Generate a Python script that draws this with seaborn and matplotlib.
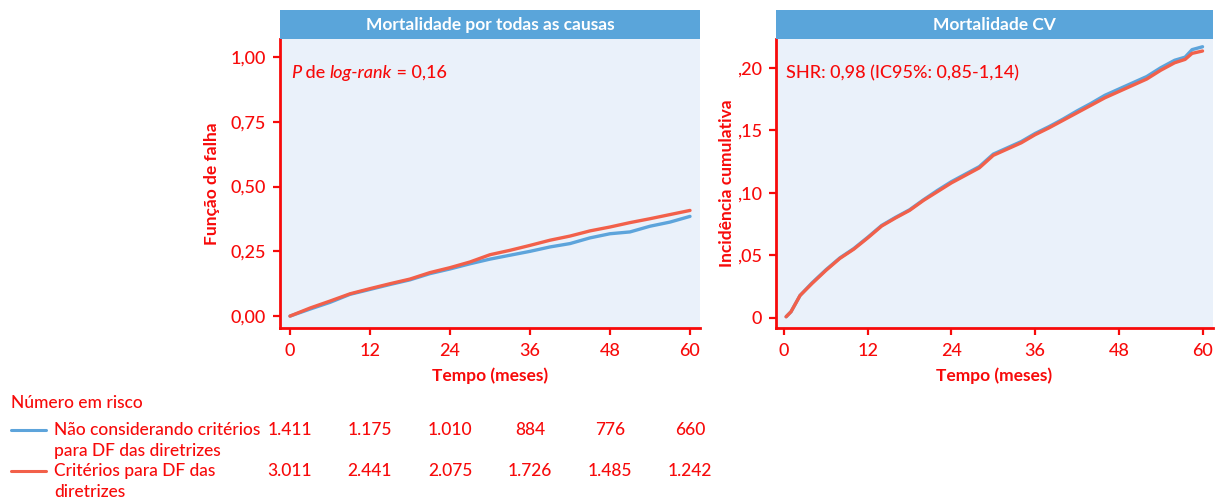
import pandas as pd
import seaborn as sns
from matplotlib import pyplot as plt
from matplotlib.lines import Line2D
import matplotlib.transforms as mtransforms

RED = "#F70A0A"
BLUE = "#5DA4DB"
ORANGE = "#F2604A"
HEADER = "#5AA5DA"
PANEL_BG = "#EAF1FA"

grupo_nao = "Não considerando critérios para DF das diretrizes"
grupo_crit = "Critérios para DF das diretrizes"

# all-cause mortality (failure function), read every 3 months
t_all = [0, 3, 6, 9, 12, 15, 18, 21, 24, 27, 30, 33, 36, 39, 42, 45, 48, 51, 54, 57, 60]
all_nao = [0.0, 0.027, 0.053, 0.084, 0.103, 0.122, 0.140, 0.164, 0.182, 0.202, 0.220,
           0.235, 0.250, 0.267, 0.280, 0.302, 0.318, 0.325, 0.347, 0.363, 0.385]
all_crit = [0.0, 0.031, 0.058, 0.086, 0.106, 0.125, 0.143, 0.168, 0.187, 0.209, 0.237,
            0.254, 0.273, 0.293, 0.309, 0.329, 0.344, 0.361, 0.376, 0.392, 0.408]

# CV mortality (cumulative incidence)
t_cv = [0.3, 1, 2.3, 4, 6, 8, 10, 12, 14, 16, 18, 20, 22, 24, 26, 28, 30, 32, 34, 36,
        38, 40, 42, 44, 46, 48, 50, 52, 54, 56, 57.5, 58.5, 60]
cv_nao = [0.001, 0.005, 0.018, 0.028, 0.0385, 0.048, 0.0555, 0.0645, 0.074, 0.0805, 0.0865,
          0.0945, 0.102, 0.109, 0.115, 0.121, 0.131, 0.136, 0.141, 0.1475, 0.153, 0.159,
          0.1655, 0.1715, 0.178, 0.183, 0.188, 0.193, 0.200, 0.206, 0.2085, 0.2145, 0.2168]
cv_crit = [0.001, 0.005, 0.018, 0.0275, 0.038, 0.0476, 0.055, 0.064, 0.0735, 0.080, 0.086,
           0.094, 0.101, 0.108, 0.114, 0.120, 0.130, 0.135, 0.140, 0.1465, 0.152, 0.158,
           0.164, 0.170, 0.176, 0.181, 0.186, 0.191, 0.198, 0.204, 0.2067, 0.2115, 0.2134]

x_ticks = [0, 12, 24, 36, 48, 60]
all_yticks = [0, 0.25, 0.5, 0.75, 1.0]
all_yticklabels = ["0,00", "0,25", "0,50", "0,75", "1,00"]
cv_yticks = [0, 0.05, 0.10, 0.15, 0.20]
cv_yticklabels = ["0", ",05", ",10", ",15", ",20"]

risk_nao = ["1.411", "1.175", "1.010", "884", "776", "660"]
risk_crit = ["3.011", "2.441", "2.075", "1.726", "1.485", "1.242"]

df_all = pd.concat([
    pd.DataFrame({"tempo": t_all, "valor": all_nao, "grupo": grupo_nao}),
    pd.DataFrame({"tempo": t_all, "valor": all_crit, "grupo": grupo_crit}),
])
df_cv = pd.concat([
    pd.DataFrame({"tempo": t_cv, "valor": cv_nao, "grupo": grupo_nao}),
    pd.DataFrame({"tempo": t_cv, "valor": cv_crit, "grupo": grupo_crit}),
])
palette = {grupo_nao: BLUE, grupo_crit: ORANGE}

sns.set_theme(style="white")
plt.rcParams["font.family"] = ["Lato", "DejaVu Sans"]
plt.rcParams["font.weight"] = "medium"

W, H = 1224, 501
fig = plt.figure(figsize=(W / 100, H / 100), dpi=100)


def px_rect(x0, y0, x1, y1):
    return [x0 / W, 1 - y1 / H, (x1 - x0) / W, (y1 - y0) / H]


def panel(rect, header_rect, title, df, xlim, ylim, yticks, yticklabels, ylabel, ylabel_x):
    ax = fig.add_axes(px_rect(*rect))
    sns.lineplot(data=df, x="tempo", y="valor", hue="grupo", palette=palette,
                 linewidth=2.4, legend=False, ax=ax, estimator=None, sort=False)
    ax.set_facecolor(PANEL_BG)
    ax.set_xlim(*xlim)
    ax.set_ylim(*ylim)
    ax.set_xticks(x_ticks)
    ax.set_xticklabels([str(t) for t in x_ticks])
    ax.set_yticks(yticks)
    ax.set_yticklabels(yticklabels)
    for side in ["top", "right"]:
        ax.spines[side].set_visible(False)
    for side in ["left", "bottom"]:
        ax.spines[side].set_color(RED)
        ax.spines[side].set_linewidth(2.0)
    ax.tick_params(axis="both", colors=RED, labelcolor=RED, length=5, width=1.6,
                   labelsize=13, direction="out", left=True, bottom=True)
    ax.tick_params(axis="x", pad=6)
    ax.tick_params(axis="y", pad=5)
    ax.set_xlabel("Tempo (meses)", color=RED, fontsize=12.5, fontweight="bold")
    ax.xaxis.set_label_coords(0.5, -0.138)
    ax.set_ylabel(ylabel, color=RED, fontsize=12.5, fontweight="bold")
    ax.yaxis.set_label_coords(ylabel_x, 0.5)
    ax.grid(False)

    hx = fig.add_axes(px_rect(*header_rect))
    hx.set_facecolor(HEADER)
    hx.set_xticks([])
    hx.set_yticks([])
    for s in hx.spines.values():
        s.set_visible(False)
    hx.text(0.5, 0.5, title, color="white", fontsize=12.5, fontweight="bold",
            ha="center", va="center", transform=hx.transAxes)
    return ax


ax1 = panel((280, 39, 700, 328), (280, 10, 700, 39), "Mortalidade por todas as causas",
            df_all, (-1.5, 61.5), (-0.046, 1.07), all_yticks, all_yticklabels,
            "Função de falha", -0.143)
ax2 = panel((776, 39, 1213, 328), (776, 10, 1213, 39), "Mortalidade CV",
            df_cv, (-1.15, 61.5), (-0.008, 0.223), cv_yticks, cv_yticklabels,
            "Incidência cumulativa", -0.094)

# P de log-rank annotation, built from text runs
runs = [("P", "italic"), (" de ", "normal"), ("log-rank", "italic"), (" = 0,16", "normal")]
prev = None
for s, style in runs:
    if prev is None:
        prev = ax1.text(0.026, 0.865, s, transform=ax1.transAxes, color=RED, fontsize=13,
                        style=style, ha="left", va="baseline")
    else:
        prev = ax1.annotate(s, xy=(1, 0.865), xycoords=(prev, ax1.transAxes), color=RED,
                            fontsize=13, style=style, ha="left", va="baseline")

ax2.text(0.023, 0.865, "SHR: 0,98 (IC95%: 0,85-1,14)", transform=ax2.transAxes,
         color=RED, fontsize=13, ha="left", va="baseline")

# risk table
fig.text(11 / W, 1 - 403 / H, "Número em risco", color=RED, fontsize=12.5, va="center")
rows = [(risk_nao, BLUE, 430, ["Não considerando critérios", "para DF das diretrizes"]),
        (risk_crit, ORANGE, 471, ["Critérios para DF das", "diretrizes"])]
blend = mtransforms.blended_transform_factory(ax1.transData, fig.transFigure)
for values, color, y, label in rows:
    fig.add_artist(Line2D([11 / W, 46 / W], [1 - y / H, 1 - y / H], color=color, lw=2.2))
    fig.text(54 / W, 1 - y / H, label[0], color=RED, fontsize=12.5, va="center")
    fig.text(54 / W, 1 - (y + 21) / H, label[1], color=RED, fontsize=12.5, va="center")
    for t, v in zip(x_ticks, values):
        ax1.text(t, 1 - y / H, v, transform=blend, color=RED, fontsize=12.5,
                 ha="center", va="center")

fig.savefig("out.png", dpi=100)
